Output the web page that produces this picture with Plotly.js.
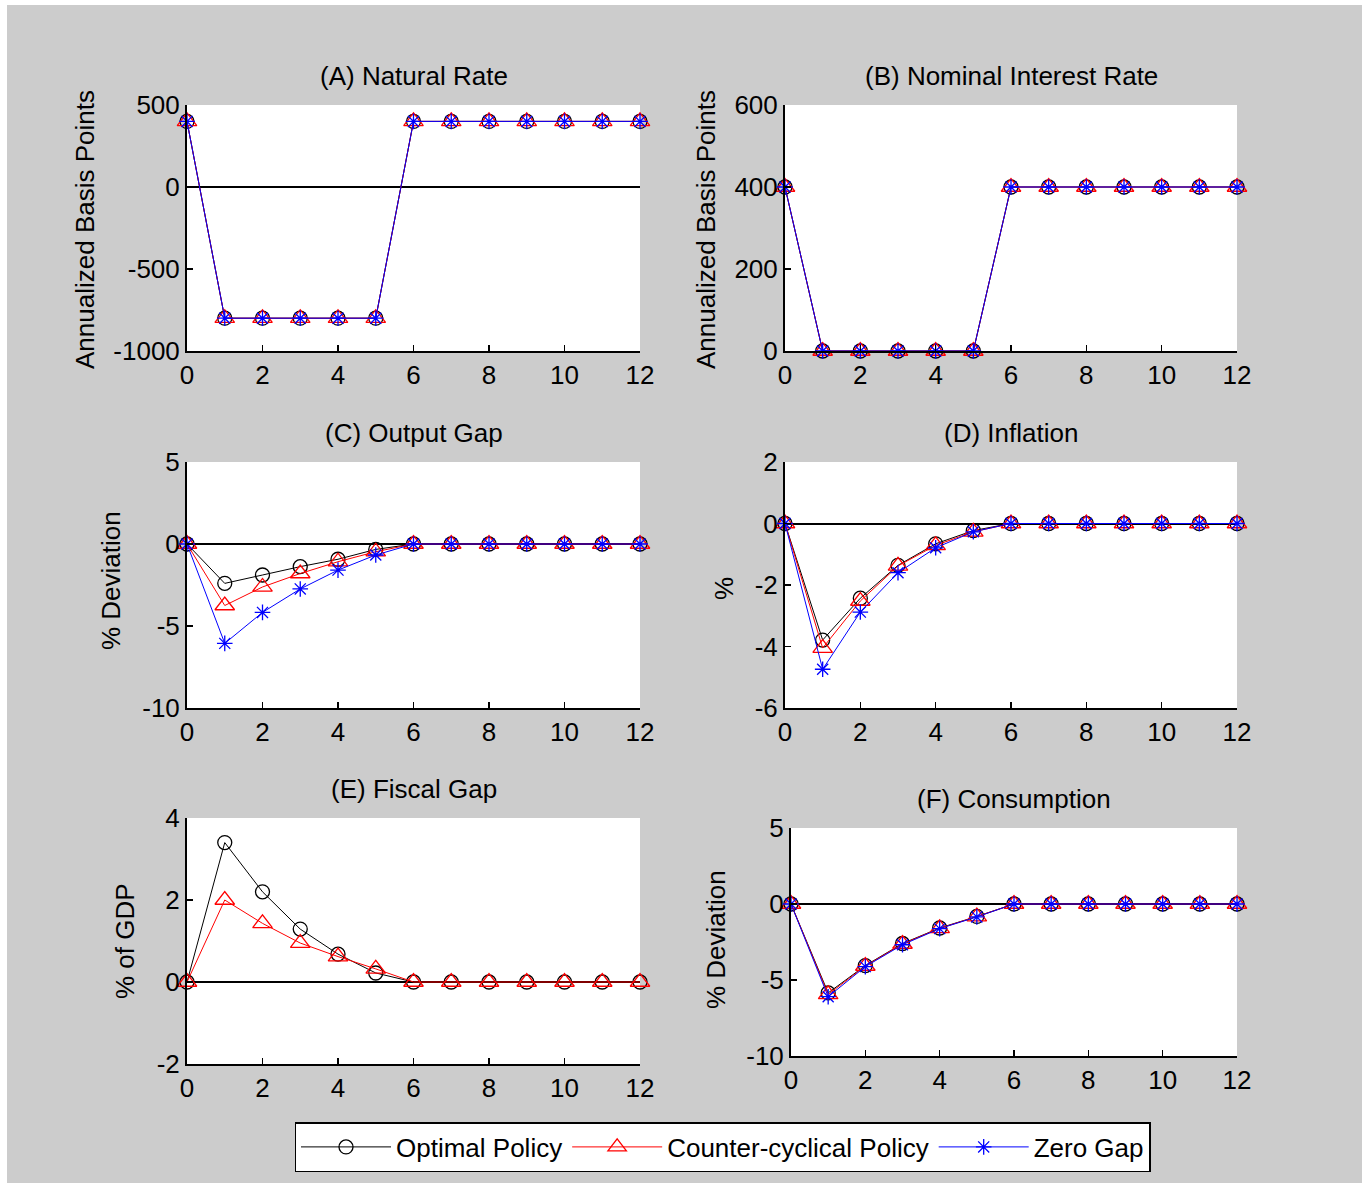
<!DOCTYPE html>
<html>
<head>
<meta charset="utf-8">
<script src="https://cdn.plot.ly/plotly-3.0.1.min.js"></script>
<style>
html,body{margin:0;padding:0;background:#ffffff;}
#bg{position:absolute;left:7px;top:5px;width:1355px;height:1178px;background:#cccccc;}
#chart{position:absolute;left:0;top:0;width:1369px;height:1188px;}
</style>
</head>
<body>
<div id="bg"></div>
<div id="chart"></div>
<script>
// ---------- data ----------
const periods = [0,1,2,3,4,5,6,7,8,9,10,11,12];
const seriesNames = ['Optimal Policy','Counter-cyclical Policy','Zero Gap'];
const panelTitles = ['(A) Natural Rate','(B) Nominal Interest Rate','(C) Output Gap','(D) Inflation','(E) Fiscal Gap','(F) Consumption'];
const yAxisLabels = ['Annualized Basis Points','Annualized Basis Points','% Deviation','%','% of GDP','% Deviation'];

const naturalRateOptimal = [400,-800,-800,-800,-800,-800,400,400,400,400,400,400,400];
const naturalRateCounter = [400,-800,-800,-800,-800,-800,400,400,400,400,400,400,400];
const naturalRateZeroGap = [400,-800,-800,-800,-800,-800,400,400,400,400,400,400,400];

const nominalRateOptimal = [400,0,0,0,0,0,400,400,400,400,400,400,400];
const nominalRateCounter = [400,0,0,0,0,0,400,400,400,400,400,400,400];
const nominalRateZeroGap = [400,0,0,0,0,0,400,400,400,400,400,400,400];

const outputGapOptimal = [0,-2.40,-1.89,-1.38,-0.93,-0.33,0,0,0,0,0,0,0];
const outputGapCounter = [0,-3.75,-2.62,-1.80,-1.08,-0.47,0,0,0,0,0,0,0];
const outputGapZeroGap = [0,-6.06,-4.17,-2.74,-1.59,-0.67,0,0,0,0,0,0,0];

const inflationOptimal = [0,-3.79,-2.43,-1.36,-0.66,-0.23,0,0,0,0,0,0,0];
const inflationCounter = [0,-4.05,-2.52,-1.38,-0.71,-0.27,0,0,0,0,0,0,0];
const inflationZeroGap = [0,-4.74,-2.88,-1.60,-0.79,-0.27,0,0,0,0,0,0,0];

const fiscalGapOptimal = [0,3.40,2.20,1.29,0.68,0.22,0,0,0,0,0,0,0];
const fiscalGapCounter = [0,2.00,1.43,0.95,0.62,0.32,0,0,0,0,0,0,0];

const consumptionOptimal = [0,-5.85,-4.05,-2.60,-1.58,-0.82,0,0,0,0,0,0,0];
const consumptionCounter = [0,-5.95,-4.08,-2.63,-1.60,-0.83,0,0,0,0,0,0,0];
const consumptionZeroGap = [0,-6.10,-4.12,-2.68,-1.62,-0.85,0,0,0,0,0,0,0];

const xTickVals = [0,2,4,6,8,10,12];
const xTickText = ['0','2','4','6','8','10','12'];

const yTickValsA = [-1000,-500,0,500];   const yTickTextA = ['-1000','-500','0','500'];
const yTickValsB = [0,200,400,600];      const yTickTextB = ['0','200','400','600'];
const yTickValsC = [-10,-5,0,5];         const yTickTextC = ['-10','-5','0','5'];
const yTickValsD = [-6,-4,-2,0,2];       const yTickTextD = ['-6','-4','-2','0','2'];
const yTickValsE = [-2,0,2,4];           const yTickTextE = ['-2','0','2','4'];
const yTickValsF = [-10,-5,0,5];         const yTickTextF = ['-10','-5','0','5'];

// ---------- layout helpers ----------
const W = 1369, H = 1188;
const FONT = 'Liberation Sans, Arial, Helvetica, sans-serif';
const fx = p => p / W;
const fy = p => 1 - p / H;

const panels = [
  {x0:187, x1:640,  y0:105, y1:351, range:[-1000,500], tv:yTickValsA, tt:yTickTextA, titleY:76,  labX:85,  labY:230,
   series:[naturalRateOptimal, naturalRateCounter, naturalRateZeroGap]},
  {x0:785, x1:1237, y0:105, y1:351, range:[0,600],     tv:yTickValsB, tt:yTickTextB, titleY:76,  labX:706, labY:230,
   series:[nominalRateOptimal, nominalRateCounter, nominalRateZeroGap]},
  {x0:187, x1:640,  y0:462, y1:708, range:[-10,5],     tv:yTickValsC, tt:yTickTextC, titleY:433, labX:111, labY:581,
   series:[outputGapOptimal, outputGapCounter, outputGapZeroGap]},
  {x0:785, x1:1237, y0:462, y1:708, range:[-6,2],      tv:yTickValsD, tt:yTickTextD, titleY:433, labX:724, labY:589,
   series:[inflationOptimal, inflationCounter, inflationZeroGap]},
  {x0:187, x1:640,  y0:818, y1:1064, range:[-2,4],     tv:yTickValsE, tt:yTickTextE, titleY:789, labX:125, labY:941,
   series:[fiscalGapOptimal, fiscalGapCounter, null]},
  {x0:791, x1:1237, y0:828, y1:1056, range:[-10,5],    tv:yTickValsF, tt:yTickTextF, titleY:799, labX:716, labY:940,
   series:[consumptionOptimal, consumptionCounter, consumptionZeroGap]}
];

const styles = [
  {color:'#000000', symbol:'circle-open',      size:14},
  {color:'#ff0000', symbol:'triangle-up-open', size:17},
  {color:'#0000ff', symbol:'asterisk-open',    size:13}
];

const traces = [];
const layout = {
  width: W, height: H,
  margin: {l:0, r:0, t:0, b:0},
  paper_bgcolor: 'rgba(0,0,0,0)',
  plot_bgcolor: '#ffffff',
  font: {family: FONT, size: 26, color: '#000000'},
  showlegend: true,
  hovermode: false,
  legend: {
    orientation: 'h',
    x: fx((288+1157)/2), xanchor: 'center',
    y: fy(1122), yanchor: 'top',
    bgcolor: '#ffffff', bordercolor: '#000000', borderwidth: 1.5,
    font: {family: FONT, size: 26, color: '#000000'},
    itemwidth: 90,
    traceorder: 'normal'
  },
  annotations: []
};

panels.forEach((p, i) => {
  const k = i + 1;
  const xa = 'xaxis' + (k === 1 ? '' : k);
  const ya = 'yaxis' + (k === 1 ? '' : k);
  const xr = 'x' + (k === 1 ? '' : k);
  const yr = 'y' + (k === 1 ? '' : k);
  const common = {
    showline: true, linecolor: '#000000', linewidth: 2,
    ticks: 'inside', ticklen: 6, tickwidth: 1.5, tickcolor: '#000000',
    showgrid: false, fixedrange: true,
    tickfont: {family: FONT, size: 26, color: '#000000'}
  };
  layout[xa] = Object.assign({}, common, {
    domain: [fx(p.x0), fx(p.x1)], anchor: yr,
    range: [0, 12], tickvals: xTickVals, ticktext: xTickText, zeroline: false
  });
  layout[ya] = Object.assign({}, common, {
    domain: [fy(p.y1), fy(p.y0)], anchor: xr,
    range: p.range, tickvals: p.tv, ticktext: p.tt,
    zeroline: true, zerolinecolor: '#000000', zerolinewidth: 2
  });
  p.series.forEach((vals, s) => {
    if (!vals) return;
    traces.push({
      type: 'scatter', mode: 'lines+markers',
      x: periods, y: vals, xaxis: xr, yaxis: yr,
      name: seriesNames[s], legendgroup: seriesNames[s],
      showlegend: i === 0,
      cliponaxis: false,
      line: {color: styles[s].color, width: 1},
      marker: {symbol: styles[s].symbol, size: styles[s].size, color: styles[s].color,
               line: {color: styles[s].color, width: 1.3}}
    });
  });
  layout.annotations.push({
    xref: 'paper', yref: 'paper', x: fx((p.x0 + p.x1) / 2), y: fy(p.titleY),
    xanchor: 'center', yanchor: 'middle', showarrow: false,
    text: panelTitles[i], font: {family: FONT, size: 26, color: '#000000'}
  });
  layout.annotations.push({
    xref: 'paper', yref: 'paper', x: fx(p.labX), y: fy(p.labY),
    xanchor: 'center', yanchor: 'middle', showarrow: false, textangle: -90,
    text: yAxisLabels[i], font: {family: FONT, size: 26, color: '#000000'}
  });
});

Plotly.newPlot('chart', traces, layout, {displayModeBar: false, staticPlot: true});
</script>
</body>
</html>
